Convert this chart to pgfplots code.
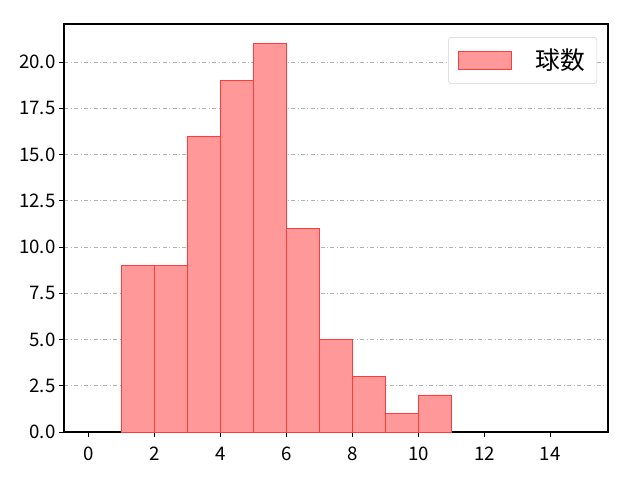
\documentclass[border=0pt]{standalone}
\usepackage{fontspec}
\setmainfont{Noto Sans CJK JP}
\usepackage{pgfplots}
\pgfplotsset{compat=1.18}
\definecolor{barfill}{RGB}{255,153,153}
\definecolor{baredge}{RGB}{255,60,60}
\begin{document}
\fontsize{14pt}{16pt}\selectfont
\begin{tikzpicture}
\begin{axis}[
    scale only axis,
    width=408pt, height=306pt,
    xmin=-0.75, xmax=15.75,
    ymin=0, ymax=22.05,
    xtick={0,2,...,14},
    ytick={0,2.5,...,20},
    yticklabel style={/pgf/number format/fixed, /pgf/number format/fixed zerofill, /pgf/number format/precision=1, xshift=2pt},
    xticklabel style={yshift=-3pt},
    /pgf/number format/assume math mode=true,
    tick label style={font=\fontsize{14pt}{16pt}\selectfont},
    tick align=outside,
    tick style={black, line width=0.6pt},
    major tick length=3.5pt,
    xtick pos=bottom, ytick pos=left,
    axis line style={black, line width=0.8pt},
    ymajorgrids,
    grid style={gray!60, dash dot, line width=0.6pt},
    legend style={at={(0.98,0.968)}, anchor=north east, draw=gray!35, rounded corners=2pt, inner xsep=7pt, inner ysep=6.5pt, font=\fontsize{18.5pt}{22pt}\selectfont},
    legend cell align=left,
    legend image code/.code={\draw[sharp corners, fill=barfill, draw=baredge, line width=0.5pt] (0pt,-7pt) rectangle (40pt,7pt);},
]
\addplot[ybar interval, fill=barfill, draw=baredge, line width=0.5pt] coordinates {
    (1,9) (2,9) (3,16) (4,19) (5,21) (6,11) (7,5) (8,3) (9,1) (10,2) (11,2)
};
\addlegendentry{\hspace{0.85em}球数\hspace{0.2em}}
\end{axis}
\path (current axis.south west) ++(-48pt,-36pt) coordinate (bl);
\path (current axis.north east) ++(24pt,18pt) coordinate (tr);
\useasboundingbox (bl) rectangle (tr);
\end{tikzpicture}
\end{document}
